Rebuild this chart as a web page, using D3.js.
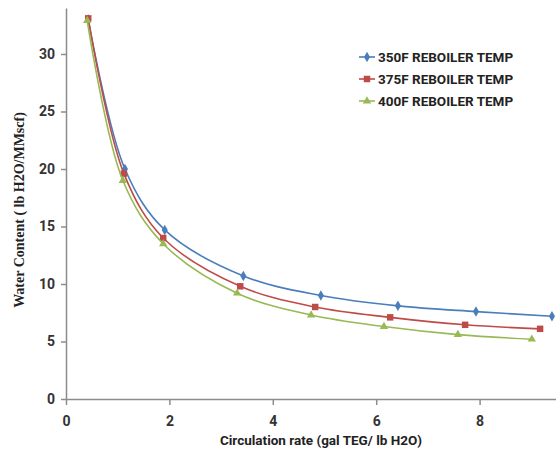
<!DOCTYPE html>
<html>
  <head>
    <meta charset="utf-8">
    <script src="https://cdn.jsdelivr.net/npm/d3@7/dist/d3.min.js"></script>
    <style>
      body { margin: 0; background: white; }
      svg { display: block; }
      .axis path, .axis line { stroke: #8c8c8c; stroke-width: 1.5px; }
      .axis text {
        font-family: "Liberation Sans Narrow", "Roboto", sans-serif;
        font-size: 14px;
        font-weight: bold;
        fill: #333;
      }
      .ylab {
        font-family: "Liberation Serif", serif;
        font-size: 14px;
        font-weight: bold;
        fill: #222;
      }
      .xlab, .legend text {
        font-family: "Liberation Sans Narrow", "Roboto", sans-serif;
        font-size: 13.5px;
        font-weight: bold;
        fill: #222;
      }
    </style>
  </head>
  <body>
    <svg id="chart" width="556" height="459"></svg>
    <script>
      // series
      var seriesNames = ["350F REBOILER TEMP", "375F REBOILER TEMP", "400F REBOILER TEMP"];
      var seriesColors = ["#4a7ebb", "#be4b48", "#98b954"];
      var x350 = [0.43, 1.14, 1.91, 3.43, 4.93, 6.42, 7.93, 9.40];
      var y350 = [33.0, 20.0, 14.7, 10.7, 9.0, 8.1, 7.6, 7.2];
      var x375 = [0.43, 1.12, 1.88, 3.37, 4.82, 6.27, 7.72, 9.17];
      var y375 = [33.1, 19.6, 14.0, 9.8, 8.0, 7.1, 6.45, 6.1];
      var x400 = [0.41, 1.10, 1.88, 3.31, 4.74, 6.15, 7.58, 9.01];
      var y400 = [32.9, 19.0, 13.5, 9.2, 7.3, 6.3, 5.6, 5.2];
      var xTicks = [0, 2, 4, 6, 8];
      var yTicks = [0, 5, 10, 15, 20, 25, 30];

      var series = [
        {name: seriesNames[0], color: seriesColors[0], shape: d3.symbolDiamond, size: 32,
         pts: x350.map((v, i) => [v, y350[i]])},
        {name: seriesNames[1], color: seriesColors[1], shape: d3.symbolSquare, size: 42,
         pts: x375.map((v, i) => [v, y375[i]])},
        {name: seriesNames[2], color: seriesColors[2], shape: d3.symbolTriangle, size: 30,
         pts: x400.map((v, i) => [v, y400[i]])}
      ];

      var svg = d3.select("#chart");
      var x = d3.scaleLinear().domain([0, 10]).range([66, 583]);
      var y = d3.scaleLinear().domain([0, 34]).range([399, 8]);

      svg.append("g")
        .attr("class", "axis")
        .attr("transform", "translate(0,399)")
        .call(d3.axisBottom(x).tickValues(xTicks).tickSize(6).tickPadding(8).tickSizeOuter(0))
        .selectAll("text").attr("dy", "0.9em");

      svg.append("g")
        .attr("class", "axis")
        .attr("transform", "translate(66,0)")
        .call(d3.axisLeft(y).tickValues(yTicks).tickSize(5).tickPadding(6).tickSizeOuter(0));

      var line = d3.line()
        .x(d => x(d[0]))
        .y(d => y(d[1]))
        .curve(d3.curveCatmullRom.alpha(0.5));

      var g = svg.selectAll("g.series")
        .data(series)
        .enter()
        .append("g")
        .attr("class", "series");

      g.append("path")
        .attr("d", d => line(d.pts))
        .style("fill", "none")
        .style("stroke", d => d.color)
        .style("stroke-width", "1.6px");

      g.each(function(s) {
        d3.select(this).selectAll("path.mark")
          .data(s.pts)
          .enter()
          .append("path")
          .attr("class", "mark")
          .attr("d", d3.symbol().type(s.shape).size(s.size))
          .attr("transform", d => "translate(" + x(d[0]) + "," + y(d[1]) + ")")
          .style("fill", s.color);
      });

      // axis titles
      svg.append("text")
        .attr("class", "ylab")
        .attr("transform", "translate(24,210) rotate(-90)")
        .attr("text-anchor", "middle")
        .text("Water Content ( lb H2O/MMscf)");

      svg.append("text")
        .attr("class", "xlab")
        .attr("x", 321)
        .attr("y", 445)
        .attr("text-anchor", "middle")
        .text("Circulation rate (gal TEG/ lb H2O)");

      // legend
      var legend = svg.append("g").attr("class", "legend");
      var rows = legend.selectAll("g")
        .data(series)
        .enter()
        .append("g")
        .attr("transform", (d, i) => "translate(359," + (57 + i * 22) + ")");

      rows.append("line")
        .attr("x1", 0).attr("x2", 16)
        .style("stroke", d => d.color)
        .style("stroke-width", "1.6px");

      rows.append("path")
        .attr("d", d => d3.symbol().type(d.shape).size(d.size)())
        .attr("transform", "translate(8,0)")
        .style("fill", d => d.color);

      rows.append("text")
        .attr("x", 19)
        .attr("dy", "0.35em")
        .text(d => d.name);
    </script>
  </body>
</html>
